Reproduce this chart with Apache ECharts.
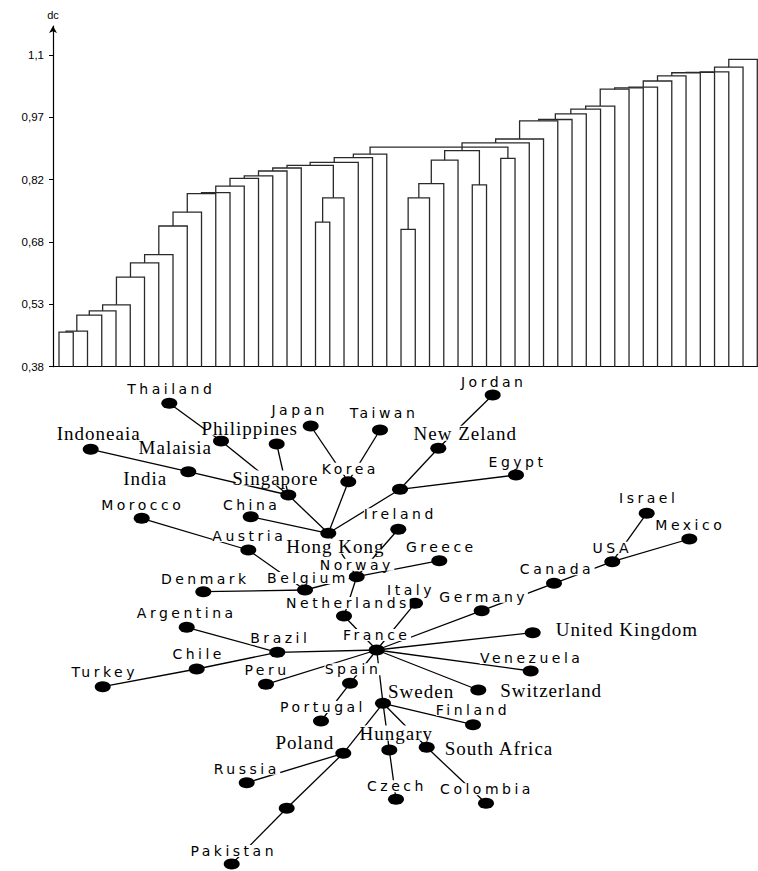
<!DOCTYPE html>
<html>
<head>
<meta charset="utf-8">
<script src="https://cdn.jsdelivr.net/npm/echarts@6/dist/echarts.min.js"></script>
<style>
html,body{margin:0;padding:0;background:#fff;}
#c{width:758px;height:871px;}
#c text[style*="DejaVu Sans"]{letter-spacing:3.5px;}
#c text[style*="Liberation Serif"]{letter-spacing:1px;}
</style>
</head>
<body>
<div id="c"></div>
<script>
// ---------------- Dendrogram data ----------------
const leafCount = 50;
const baseHeight = 0.38;
// each merge joins the listed children (L = leaf index, M = earlier merge index)
const dendroMerges = [
  ['L0','L1'], ['M0','L2'], ['M1','L3'], ['M2','L4'], ['M3','L5'],
  ['M4','L6'], ['M5','L7'], ['M6','L8'], ['M7','L9'], ['M8','L10'],
  ['M9','L11'], ['M10','L12'], ['M11','L13'], ['M12','L14'], ['M13','L15'],
  ['M14','L16'], ['M15','L17'], ['L18','L19'], ['M17','L20'], ['M16','M18'],
  ['M19','L21'], ['M20','L22'], ['M21','L23'], ['L24','L25'], ['M23','L26'],
  ['M24','L27'], ['M25','L28'], ['L29','L30'], ['M26','M27'], ['L31','L32'],
  ['M22','M28','M29'], ['M30','L33'], ['M31','L34'], ['M32','L35'], ['M33','L36'],
  ['M34','L37'], ['M35','L38'], ['M36','L39'], ['M37','L40'], ['M38','L41'],
  ['M39','L42'], ['M40','L43'], ['M41','L44'], ['M42','L45'], ['M43','L46'],
  ['M44','L47'], ['M45','L48'], ['M46','L49']
];
const dendroHeights = [
  0.460, 0.462, 0.499, 0.509, 0.523,
  0.587, 0.620, 0.639, 0.705, 0.737,
  0.780, 0.782, 0.797, 0.815, 0.821,
  0.832, 0.839, 0.714, 0.770, 0.845,
  0.852, 0.863, 0.871, 0.697, 0.770,
  0.803, 0.857, 0.800, 0.879, 0.861,
  0.887, 0.897, 0.906, 0.948, 0.951,
  0.964, 0.975, 0.982, 1.021, 1.024,
  1.026, 1.040, 1.052, 1.059, 1.060,
  1.061, 1.072, 1.090
];
const yTickValues = [0.38, 0.524, 0.668, 0.812, 0.956, 1.1];
const yTickLabels = ['0,38', '0,53', '0,68', '0,82', '0,97', '1,1'];
const yAxisName = 'dc';

// ---------------- Network (spanning tree) data ----------------
const countries = [
  'Thailand','Japan','Taiwan','Philippines','Malaisia','Indoneaia','India','Singapore','Korea','China',
  'Morocco','Hong Kong','Ireland','','Jordan','New Zeland','Egypt','Austria','Norway','Greece',
  'Belgium','Denmark','Netherlands','Italy','Germany','Canada','USA','Israel','Mexico','Argentina',
  'Brazil','Chile','Turkey','Peru','Spain','France','Portugal','United Kingdom','Venezuela','Switzerland',
  'Sweden','Finland','Poland','Hungary','South Africa','Russia','Czech','Colombia','','Pakistan'
];
// layout position of each node (picture units)
const nodeX = [
  169.3, 310.7, 380.0, 276.7, 221.0, 90.7, 188.3, 288.3, 348.3, 250.7,
  141.7, 328.3, 398.3, 400.0, 492.7, 438.3, 516.0, 248.3, 356.7, 439.3,
  305.0, 203.3, 344.0, 415.0, 481.7, 554.0, 612.3, 646.7, 689.3, 186.7,
  277.3, 196.7, 102.7, 266.0, 350.0, 376.7, 321.0, 532.7, 530.7, 478.3,
  383.0, 473.0, 343.3, 389.3, 426.7, 246.7, 396.0, 486.0, 286.7, 231.7
];
const nodeY = [
  403.3, 426.0, 430.0, 444.0, 441.0, 449.3, 471.7, 495.0, 481.7, 516.7,
  518.3, 533.3, 529.3, 489.3, 395.0, 448.3, 475.0, 550.0, 576.7, 560.7,
  590.0, 591.7, 616.0, 603.3, 610.7, 583.3, 561.7, 513.3, 539.0, 627.3,
  652.3, 669.0, 686.7, 684.3, 683.3, 650.0, 721.0, 632.7, 671.0, 690.0,
  703.3, 724.7, 753.3, 750.0, 747.3, 782.7, 799.3, 803.3, 808.3, 864.0
];
const treeEdges = [
  [0,4],[4,7],[3,7],[5,6],[6,7],[7,11],[9,11],[1,8],[2,8],[8,11],
  [11,13],[14,15],[15,13],[16,13],[11,18],[12,18],[18,19],[10,17],[17,20],[21,20],
  [20,18],[18,22],[22,35],[23,35],[24,35],[24,25],[25,26],[26,27],[26,28],[35,37],
  [35,38],[35,39],[35,30],[29,30],[31,30],[32,31],[35,33],[35,34],[34,36],[35,40],
  [40,41],[40,42],[40,43],[40,44],[42,45],[42,48],[48,49],[43,46],[44,47]
];

// ---------------- Label placement (style only) ----------------
const labelDX = [
  2,-11,4,-27,-8,8,-20,-13,2,1,
  1,7,2,0,1,27,1.5,1,0,2,
  3,2,4,-4,2,3,0,2,1,0,
  3,2,2,1,3,0,2,22,1,21,
  4,0,-8,7,17,0,1,1,0,2
];
const labelDY = [
  -14,-16,-17,-16,6,-16,7,-17,-13,-12,
  -13,13,-15,0,-13,-15,-13,-14,-12,-14,
  -12,-13,-13,-13,-14,-14,-14,-15,-14,-14,
  -14,-15,-15,-14,-14,-15,-14,-3,-13,0,
  -12,-15,-11,-17,1,-14,-13,-14,0,-13
];
const labelAlign = [
  'center','center','center','center','right','center','right','center','center','center',
  'center','center','center','center','center','center','center','center','center','center',
  'center','center','center','center','center','center','center','center','center','center',
  'center','center','center','center','center','center','center','left','center','left',
  'left','center','right','center','left','center','center','center','center','center'
];
const serifLabels = ['Philippines','Malaisia','Indoneaia','India','Singapore','Hong Kong','New Zeland',
  'United Kingdom','Switzerland','Sweden','Poland','Hungary','South Africa'];

// ---------------- Build dendrogram segments ----------------
const pos = {}, hgt = {};
for (let i = 0; i < leafCount; i++) { pos['L' + i] = i; hgt['L' + i] = baseHeight; }
const dendroLines = [];
dendroMerges.forEach((children, k) => {
  const h = dendroHeights[k];
  const order = children.slice().sort((a, b) => pos[a] - pos[b]);
  const first = order[0], last = order[order.length - 1];
  dendroLines.push({coords: [[pos[first], hgt[first]], [pos[first], h], [pos[last], h], [pos[last], hgt[last]]]});
  order.slice(1, -1).forEach(c => dendroLines.push({coords: [[pos[c], hgt[c]], [pos[c], h]]}));
  const xs = order.map(c => pos[c]);
  const n = xs.length;
  pos['M' + k] = n % 2 ? xs[(n - 1) / 2] : (xs[n / 2 - 1] + xs[n / 2]) / 2;
  hgt['M' + k] = h;
});

// ---------------- Build graph nodes ----------------
const SANS_LS = 3.5;
const graphNodes = countries.map((name, i) => {
  const serif = serifLabels.indexOf(name) >= 0;
  const lbl = name === '' ? {show: false} : {
    show: true,
    position: 'inside',
    offset: [labelDX[i], labelDY[i]],
    align: labelAlign[i],
    verticalAlign: 'middle',
    color: '#000',
    fontFamily: serif ? 'Liberation Serif' : 'DejaVu Sans',
    fontSize: serif ? 19 : 14,
    lineHeight: serif ? 15 : 12,
    backgroundColor: '#fff',
    padding: serif ? [0, 1] : [0, labelAlign[i] === 'center' ? Math.round(SANS_LS * name.length / 2) : 1]
  };
  return {id: 'n' + i, name: name, value: [nodeX[i], nodeY[i]], label: lbl};
});
const graphLinks = treeEdges.map(e => ({source: e[0], target: e[1]}));

const chart = echarts.init(document.getElementById('c'), null, {renderer: 'svg'});
chart.setOption({
  animation: false,
  backgroundColor: '#fff',
  grid: [
    {left: 53, top: 26, width: 705, height: 340.7, containLabel: false},
    {left: 0, top: 0, width: 758, height: 871, containLabel: false}
  ],
  xAxis: [
    {
      gridIndex: 0, type: 'value', min: -0.421, max: 49.05,
      axisLine: {show: true, onZero: false, lineStyle: {color: '#000', width: 1.2}},
      axisTick: {show: false}, axisLabel: {show: false}, splitLine: {show: false}
    },
    {gridIndex: 1, type: 'value', min: 0, max: 758, show: false}
  ],
  yAxis: [
    {
      gridIndex: 0, type: 'value', min: baseHeight, max: 1.167,
      name: yAxisName, nameLocation: 'end', nameGap: 6,
      nameTextStyle: {fontFamily: 'Liberation Sans', fontSize: 11, color: '#000', align: 'center'},
      axisLine: {show: true, onZero: false, symbol: ['none', 'arrow'], symbolSize: [6, 7], lineStyle: {color: '#000', width: 1.2}},
      axisTick: {show: true, customValues: yTickValues, length: 4, inside: false, lineStyle: {color: '#000'}},
      axisLabel: {
        show: true, customValues: yTickValues, margin: 9,
        fontFamily: 'Liberation Sans', fontSize: 11.5, color: '#000',
        formatter: function (v) {
          const idx = yTickValues.findIndex(t => Math.abs(t - v) < 1e-6);
          return idx >= 0 ? yTickLabels[idx] : '';
        }
      },
      splitLine: {show: false}
    },
    {gridIndex: 1, type: 'value', min: 0, max: 871, inverse: true, show: false}
  ],
  series: [
    {
      type: 'lines', coordinateSystem: 'cartesian2d', xAxisIndex: 0, yAxisIndex: 0,
      polyline: true, silent: true,
      lineStyle: {color: '#2a2a2a', width: 1.3, opacity: 1},
      data: dendroLines
    },
    {
      type: 'graph', coordinateSystem: 'cartesian2d', xAxisIndex: 1, yAxisIndex: 1,
      layout: 'none', silent: true,
      symbol: 'circle', symbolSize: [16, 11],
      itemStyle: {color: '#000'},
      lineStyle: {color: '#000', width: 1.3, opacity: 1, curveness: 0},
      emphasis: {disabled: true},
      data: graphNodes,
      links: graphLinks
    }
  ]
});
</script>
</body>
</html>
